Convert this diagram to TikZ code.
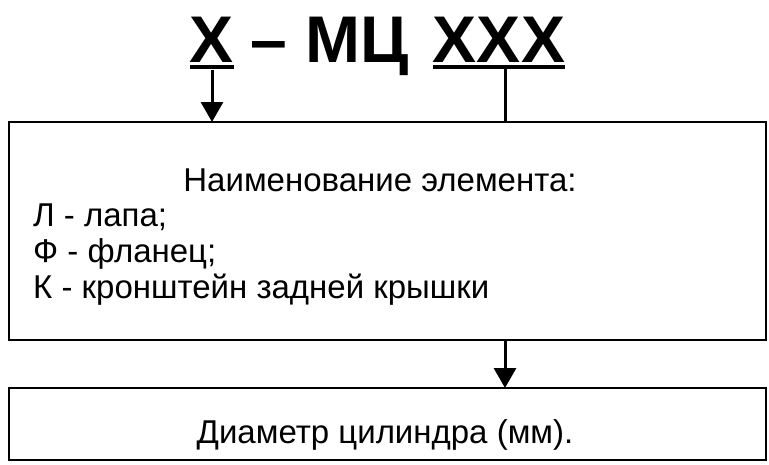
\documentclass[tikz,border=0pt]{standalone}
\usepackage{fontspec}
\setmainfont{Liberation Sans}
\usetikzlibrary{arrows.meta,positioning}
\begin{document}
\begin{tikzpicture}
      [x=1pt,y=-1pt
      ,box/.style={draw,line width=1.6pt}
      ,ul/.style={line width=4pt}
      ,lin/.style={line width=3pt}
      ,arr/.style={line width=3pt,-{Triangle[width=22pt,length=20pt]}}
      ,ttl/.style={font=\fontsize{66}{66}\selectfont\bfseries,inner sep=0pt,anchor=base}
      ,txt/.style={font=\fontsize{33}{33}\selectfont,inner sep=0pt,anchor=base}
      ]
        \useasboundingbox (0,0) rectangle (769,464);
        % title
        \node[ttl] (x) at (212,62) {X};
        \node[ttl] (mc) at (330,62) {– МЦ};
        \node[ttl] (xxx) at (499,62) {XXX};
        \draw[ul] ([yshift=-5pt]x.base west) -- ([yshift=-5pt]x.base east);
        \draw[ul] ([yshift=-5pt]xxx.base west) -- ([yshift=-5pt]xxx.base east);
        % boxes
        \draw[box] (9,122) rectangle (766,340);
        \draw[box] (9,388) rectangle (766,460);
        \coordinate (b1top1) at (212,122);
        \coordinate (b1top2) at (505,122);
        \coordinate (b1bot) at (505,340);
        \coordinate (b2top) at (505,388);
        \draw[arr] ([yshift=-8pt]x.base) -- (b1top1);
        \draw[lin] (505,69) -- (b1top2);
        \draw[arr] (b1bot) -- (b2top);
        % texts
        \node[txt] (head) at (380,191) {Наименование элемента:};
        \node[txt,anchor=base west] (l1) at (33,226) {Л - лапа;};
        \node[txt,anchor=base west] (l2) at (33,262) {Ф - фланец;};
        \node[txt,anchor=base west] (l3) at (33,298) {К - кронштейн задней крышки};
        \node[txt] (diam) at (385,443) {Диаметр цилиндра (мм).};
      \end{tikzpicture}
\end{document}
